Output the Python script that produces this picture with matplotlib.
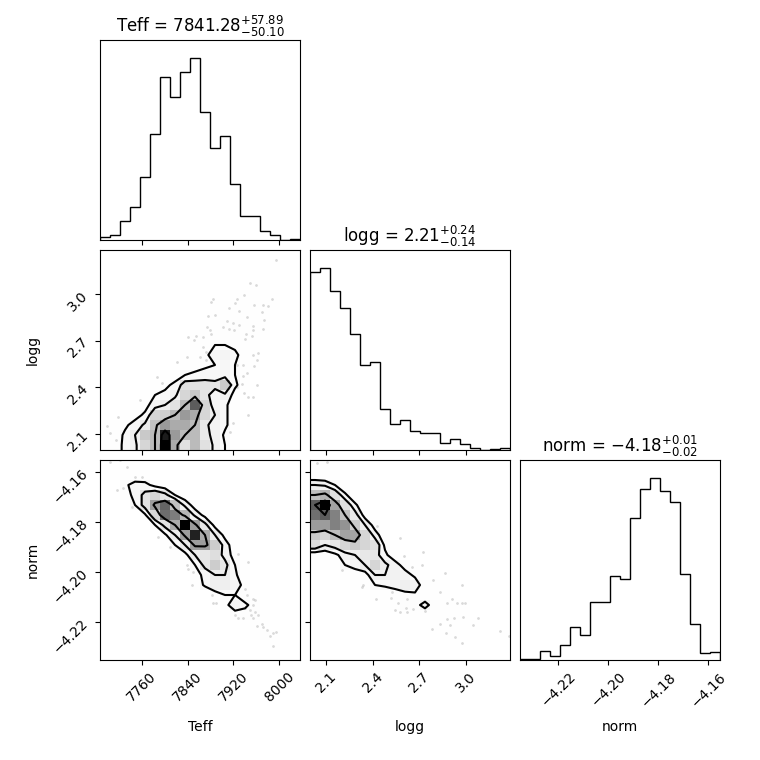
import numpy as np
import matplotlib
matplotlib.use("Agg")
import matplotlib.pyplot as plt
from matplotlib.colors import LinearSegmentedColormap

# ---------------- data ----------------
labels = ["Teff", "logg", "norm"]
ranges = [(7687.3, 8036.1), (1.997, 3.283), (-4.2353, -4.1553)]
titles = [r"Teff = $7841.28_{-50.10}^{+57.89}$",
          r"logg = $2.21_{-0.14}^{+0.24}$",
          r"norm = $-4.18_{-0.02}^{+0.01}$"]
tick_values = [[7760, 7840, 7920, 8000],
               [2.1, 2.4, 2.7, 3.0],
               [-4.22, -4.20, -4.18, -4.16]]
tick_labels = [["7760", "7840", "7920", "8000"],
               ["2.1", "2.4", "2.7", "3.0"],
               ["\u22124.22", "\u22124.20", "\u22124.18", "\u22124.16"]]

# 1D histogram counts (20 bins each)
teff_counts = [2, 4, 14, 25, 47, 79, 122, 107, 126, 136, 96, 69, 78, 42, 18, 18, 7, 4, 0, 1]
logg_counts = [158, 161, 141, 126, 103, 75, 78, 36, 23, 27, 17, 15, 15, 6, 10, 5, 2, 0, 1, 2]
norm_counts = [1, 1, 7, 3, 11, 25, 19, 44, 44, 63, 61, 107, 129, 137, 127, 119, 65, 27, 5, 6]

# 2D histogram counts, rows listed from top (highest y bin) to bottom
teff_logg_rows = [
    [0,0,0,0,0,0,0,0,0,0,0,0,0,0,0,0,0,1,0,1],
    [0,0,0,0,0,0,0,0,0,0,0,0,0,0,0,0,0,1,0,0],
    [0,0,0,0,0,0,0,0,0,0,0,0,0,0,0,0,0,0,0,0],
    [0,0,0,0,0,0,0,0,0,0,0,0,0,0,0,1,1,0,0,0],
    [0,0,0,0,0,0,0,0,0,0,0,0,0,1,1,1,1,1,0,0],
    [0,0,0,0,0,0,0,0,0,0,0,1,1,2,2,2,1,1,0,0],
    [0,0,0,0,0,0,0,0,0,0,0,1,1,1,1,1,1,0,0,0],
    [0,0,0,0,0,0,0,0,0,0,1,2,3,3,3,2,1,0,0,0],
    [0,0,0,0,0,0,0,0,0,1,2,2,3,3,2,1,1,0,0,0],
    [0,0,0,0,0,0,0,0,0,1,2,4,4,3,2,1,0,0,0,0],
    [0,0,0,0,0,0,0,0,1,2,3,6,7,5,2,1,0,0,0,0],
    [0,0,0,0,0,0,0,0,1,2,3,4,6,4,2,1,0,0,0,0],
    [0,0,0,0,0,0,1,2,4,5,6,6,7,4,1,0,0,0,0,0],
    [0,0,0,0,0,1,3,5,12,12,12,11,16,5,1,0,0,0,0,0],
    [0,0,0,0,1,4,5,8,14,16,11,6,8,2,0,0,0,0,0,0],
    [0,0,0,1,2,7,9,12,18,28,14,6,5,1,0,0,0,0,0,0],
    [0,0,1,2,5,14,15,18,22,20,14,9,5,1,0,0,0,0,0,0],
    [1,1,3,6,10,17,22,20,20,18,10,7,5,1,0,0,0,0,0,0],
    [0,1,5,9,16,18,33,22,18,18,10,8,3,0,0,0,0,0,0,0],
    [1,2,5,8,14,18,35,20,12,18,12,8,4,1,0,0,0,0,0,0],
]
teff_norm_rows = [
    [2,2,1,1,0,0,0,0,0,0,0,0,0,0,0,0,0,0,0,0],
    [0,1,1,2,1,0,0,0,0,0,0,0,0,0,0,0,0,0,0,0],
    [0,0,5,8,8,4,2,0,0,0,0,0,0,0,0,0,0,0,0,0],
    [0,0,3,8,14,18,14,6,2,0,0,0,0,0,0,0,0,0,0,0],
    [0,0,0,6,15,28,35,22,10,3,0,0,0,0,0,0,0,0,0,0],
    [0,0,0,0,5,18,34,32,24,10,4,0,0,0,0,0,0,0,0,0],
    [0,0,0,0,0,6,14,26,45,28,14,4,0,0,0,0,0,0,0,0],
    [0,0,0,0,0,0,5,12,28,42,26,12,4,0,0,0,0,0,0,0],
    [0,0,0,0,0,0,2,6,12,28,28,20,9,2,0,0,0,0,0,0],
    [0,0,0,0,0,0,0,2,4,12,14,16,10,3,0,0,0,0,0,0],
    [0,0,0,0,0,0,0,0,2,6,14,20,14,6,1,0,0,0,0,0],
    [0,0,0,0,0,0,0,0,0,3,8,12,12,7,2,0,0,0,0,0],
    [0,0,0,0,0,0,0,0,0,2,7,11,11,9,4,0,0,0,0,0],
    [0,0,0,0,0,0,0,0,0,0,0,3,6,6,3,1,0,0,0,0],
    [0,0,0,0,0,0,0,0,0,0,0,0,4,10,7,4,0,0,0,0],
    [0,0,0,0,0,0,0,0,0,0,0,0,0,3,4,3,1,0,0,0],
    [0,0,0,0,0,0,0,0,0,0,0,0,0,0,0,1,2,0,0,0],
    [0,0,0,0,0,0,0,0,0,0,0,0,0,0,0,2,3,2,0,0],
    [0,0,0,0,0,0,0,0,0,0,0,0,0,0,0,0,0,1,0,0],
    [0,0,0,0,0,0,0,0,0,0,0,0,0,0,0,0,0,1,0,0],
]
logg_norm_rows = [
    [2,2,1,1,0,0,0,0,0,0,0,0,0,0,0,0,0,0,0,0],
    [2,2,1,0,0,0,0,0,0,0,0,0,0,0,0,0,0,0,0,0],
    [10,9,6,2,0,0,0,0,0,0,0,0,0,0,0,0,0,0,0,0],
    [20,22,14,7,2,0,0,0,0,0,0,0,0,0,0,0,0,0,0,0],
    [32,40,24,14,7,2,0,0,0,0,0,0,0,0,0,0,0,0,0,0],
    [30,32,28,20,12,4,1,0,0,0,0,0,0,0,0,0,0,0,0,0],
    [25,25,28,26,18,10,4,1,0,0,0,0,0,0,0,0,0,0,0,0],
    [18,16,20,24,24,16,8,3,0,0,0,0,0,0,0,0,0,0,0,0],
    [14,10,12,16,18,16,14,5,2,0,0,0,0,0,0,0,0,0,0,0],
    [3,3,5,8,10,12,12,7,3,0,0,0,0,0,0,0,0,0,0,0],
    [0,1,2,6,8,10,16,11,8,4,1,0,0,0,0,0,0,0,0,0],
    [0,0,0,2,3,4,10,10,9,8,5,1,0,0,0,0,0,0,0,0],
    [0,0,0,0,1,1,6,7,8,10,9,3,1,1,0,0,0,0,0,0],
    [0,0,0,0,0,0,2,1,3,4,5,2,1,1,0,0,0,0,0,0],
    [0,0,0,0,0,0,0,1,1,4,4,8,3,1,2,1,0,0,0,0],
    [0,0,0,0,0,0,0,0,0,1,2,2,2,1,2,1,0,0,0,0],
    [0,0,0,0,0,0,0,0,0,0,0,0,1,0,1,0,1,0,0,0],
    [0,0,0,0,0,0,0,0,0,0,0,1,0,1,2,1,0,1,0,1],
    [0,0,0,0,0,0,0,0,0,0,0,0,0,0,1,0,0,0,0,0],
    [0,0,0,0,0,0,0,0,0,0,0,0,0,0,0,0,1,0,0,0],
]

# scattered sample points outside the contours
tl_teff = [7994.2, 7948.9, 7959.3, 7938.4, 7884.9, 7880.3, 7925.6, 7923.3, 7987.2, 7972.1,
           7980.8, 7955.9, 7911.7, 7929.1, 7887.8, 7876.2, 7943.1, 7969.2, 7973.3, 7908.2,
           7919.8, 7929.1, 7953.5, 7972.1, 7873.3, 7879.1, 7902.4, 7912.8, 7921.0, 7841.4,
           7854.7, 7851.2, 7867.5, 7880.3, 7941.9, 7939.6, 7954.7, 7952.4, 7963.4, 7954.7,
           7960.5, 7955.9, 7943.1, 7937.3, 7934.4, 7925.6, 7960.5, 7938.4, 7946.0, 7953.5,
           7946.0, 7919.8, 7914.0, 7867.5, 7872.2, 7861.7, 7872.2, 7822.2, 7838.5, 7786.1,
           7794.9, 7757.1, 7719.3, 7699.0, 7704.8, 7715.2, 7936.1, 7925.6]
tl_logg = [3.217, 3.072, 3.057, 2.993, 2.971, 2.950, 2.965, 2.943, 2.971, 2.928,
           2.922, 2.928, 2.907, 2.892, 2.864, 2.858, 2.849, 2.886, 2.836, 2.828,
           2.811, 2.800, 2.793, 2.772, 2.785, 2.768, 2.785, 2.772, 2.768, 2.721,
           2.729, 2.704, 2.725, 2.740, 2.742, 2.708, 2.768, 2.729, 2.622, 2.607,
           2.575, 2.537, 2.489, 2.472, 2.421, 2.404, 2.414, 2.361, 2.340, 2.340,
           2.222, 2.173, 2.115, 2.661, 2.629, 2.597, 2.575, 2.564, 2.592, 2.468,
           2.425, 2.318, 2.211, 2.151, 2.108, 2.061, 2.543, 2.543]

tn_teff = [7704.8, 7722.2, 7733.8, 7716.4, 7728.0, 7742.6, 7760.0, 7748.4, 7789.0, 7809.4,
           7838.5, 7841.4, 7850.1, 7861.7, 7847.2, 7882.0, 7884.9, 7889.6, 7928.5, 7945.9,
           7940.2, 7943.1, 7954.7, 7957.6, 7954.7, 7948.9, 7940.2, 7957.6, 7950.1, 7963.4,
           7953.5, 7969.2, 7972.1, 7960.5, 7977.9, 7988.4, 7994.2, 7983.8, 7988.4, 7922.7,
           7928.5, 7937.3]
tn_norm = [-4.1561, -4.1554, -4.1581, -4.1674, -4.1667, -4.1741, -4.1621, -4.1621, -4.1861, -4.1901,
           -4.1974, -4.1990, -4.2001, -4.1994, -4.2051, -4.2091, -4.2123, -4.2123, -4.1927, -4.1961,
           -4.2067, -4.2091, -4.2107, -4.2114, -4.2134, -4.2154, -4.2145, -4.2161, -4.2174, -4.2174,
           -4.2185, -4.2207, -4.2221, -4.2217, -4.2234, -4.2243, -4.2241, -4.2257, -4.2297, -4.2174,
           -4.2185, -4.2185]

ln_logg = [2.041, 2.105, 2.430, 2.576, 2.601, 2.651, 2.726, 2.715, 2.201, 2.330,
           2.340, 2.422, 2.494, 2.522, 2.516, 2.565, 2.619, 2.614, 2.544, 2.576,
           2.623, 2.661, 2.790, 2.865, 2.833, 2.876, 2.908, 2.940, 2.976, 2.993,
           2.972, 2.736, 2.833, 2.876, 2.923, 2.978, 3.079, 2.897, 2.779, 2.871,
           2.929, 2.972, 3.047, 3.218, 3.278]
ln_norm = [-4.1567, -4.1561, -4.1817, -4.1865, -4.1937, -4.1981, -4.1921, -4.1974, -4.1994, -4.2061,
           -4.2051, -4.2107, -4.2057, -4.2081, -4.2105, -4.2123, -4.2107, -4.2145, -4.2154, -4.2161,
           -4.2161, -4.2147, -4.2034, -4.2003, -4.2081, -4.2123, -4.2107, -4.2123, -4.2123, -4.2123,
           -4.2054, -4.2158, -4.2207, -4.2190, -4.2185, -4.2181, -4.2185, -4.2214, -4.2227, -4.2245,
           -4.2261, -4.2283, -4.2214, -4.2238, -4.2257]

# ---------------- plotting ----------------
K = 3
factor = 2.0
lbdim = 0.5 * factor
trdim = 0.2 * factor
whspace = 0.05
plotdim = factor * K + factor * (K - 1.0) * whspace
dim = lbdim + plotdim + trdim
lb = lbdim / dim
tr = (lbdim + plotdim) / dim

fig, axes = plt.subplots(K, K, figsize=(dim, dim), dpi=100)
fig.subplots_adjust(left=lb, bottom=lb, right=tr, top=tr, wspace=whspace, hspace=whspace)

density_cmap = LinearSegmentedColormap.from_list("density_cmap", ["k", (1, 1, 1, 0)])
white_cmap = LinearSegmentedColormap.from_list("white_cmap", [(1, 1, 1), (1, 1, 1)], N=2)


def hist1d(ax, counts, rng):
    edges = np.linspace(rng[0], rng[1], len(counts) + 1)
    centers = 0.5 * (edges[1:] + edges[:-1])
    ax.hist(centers, bins=edges, weights=counts, histtype="step", color="k")
    ax.set_xlim(rng)
    ax.set_ylim(0, 1.1 * max(counts))
    ax.set_yticks([])


def hist2d(ax, rows, xr, yr, px, py):
    H = np.array(rows[::-1], dtype=float).T  # H[ix, iy]
    nx, ny = H.shape
    X = np.linspace(xr[0], xr[1], nx + 1)
    Y = np.linspace(yr[0], yr[1], ny + 1)
    levels = 1.0 - np.exp(-0.5 * np.arange(0.5, 2.1, 0.5) ** 2)
    Hflat = H.flatten()
    inds = np.argsort(Hflat)[::-1]
    Hflat = Hflat[inds]
    sm = np.cumsum(Hflat)
    sm /= sm[-1]
    V = np.empty(len(levels))
    for i, v0 in enumerate(levels):
        try:
            V[i] = Hflat[sm <= v0][-1]
        except IndexError:
            V[i] = Hflat[0]
    V.sort()
    m = np.diff(V) == 0
    while np.any(m):
        V[np.where(m)[0][0]] *= 1.0 - 1e-4
        m = np.diff(V) == 0
    V.sort()

    X1, Y1 = 0.5 * (X[1:] + X[:-1]), 0.5 * (Y[1:] + Y[:-1])
    H2 = H.min() + np.zeros((H.shape[0] + 4, H.shape[1] + 4))
    H2[2:-2, 2:-2] = H
    H2[2:-2, 1] = H[:, 0]
    H2[2:-2, -2] = H[:, -1]
    H2[1, 2:-2] = H[0]
    H2[-2, 2:-2] = H[-1]
    H2[1, 1] = H[0, 0]
    H2[1, -2] = H[0, -1]
    H2[-2, 1] = H[-1, 0]
    H2[-2, -2] = H[-1, -1]
    X2 = np.concatenate([X1[0] + np.array([-2, -1]) * np.diff(X1[:2]), X1,
                         X1[-1] + np.array([1, 2]) * np.diff(X1[-2:])])
    Y2 = np.concatenate([Y1[0] + np.array([-2, -1]) * np.diff(Y1[:2]), Y1,
                         Y1[-1] + np.array([1, 2]) * np.diff(Y1[-2:])])

    ax.plot(px, py, "o", zorder=-1, ms=2.0, mec="none", color="k", alpha=0.15, rasterized=True)
    ax.contourf(X2, Y2, H2.T, [V.min(), H.max()], cmap=white_cmap, antialiased=False)
    ax.pcolor(X, Y, H.max() - H.T, cmap=density_cmap)
    ax.contour(X2, Y2, H2.T, V, colors="k")
    ax.set_xlim(xr)
    ax.set_ylim(yr)


pairs = {(1, 0): (teff_logg_rows, tl_teff, tl_logg),
         (2, 0): (teff_norm_rows, tn_teff, tn_norm),
         (2, 1): (logg_norm_rows, ln_logg, ln_norm)}
diag_counts = [teff_counts, logg_counts, norm_counts]

for i in range(K):
    for j in range(K):
        ax = axes[i, j]
        if j > i:
            ax.set_frame_on(False)
            ax.set_xticks([])
            ax.set_yticks([])
            continue
        if i == j:
            hist1d(ax, diag_counts[i], ranges[i])
            ax.set_title(titles[i], fontsize=12)
        else:
            rows, px, py = pairs[(i, j)]
            hist2d(ax, rows, ranges[j], ranges[i], px, py)
            ax.set_yticks(tick_values[i])
            if j == 0:
                ax.set_yticklabels(tick_labels[i], rotation=45)
                ax.set_ylabel(labels[i])
                ax.yaxis.set_label_coords(-0.3, 0.5)
            else:
                ax.set_yticklabels([])
        ax.set_xticks(tick_values[j])
        if i == K - 1:
            ax.set_xticklabels(tick_labels[j], rotation=45)
            ax.set_xlabel(labels[j])
            ax.xaxis.set_label_coords(0.5, -0.3)
        else:
            ax.set_xticklabels([])

fig.savefig("out.png", dpi=100)
